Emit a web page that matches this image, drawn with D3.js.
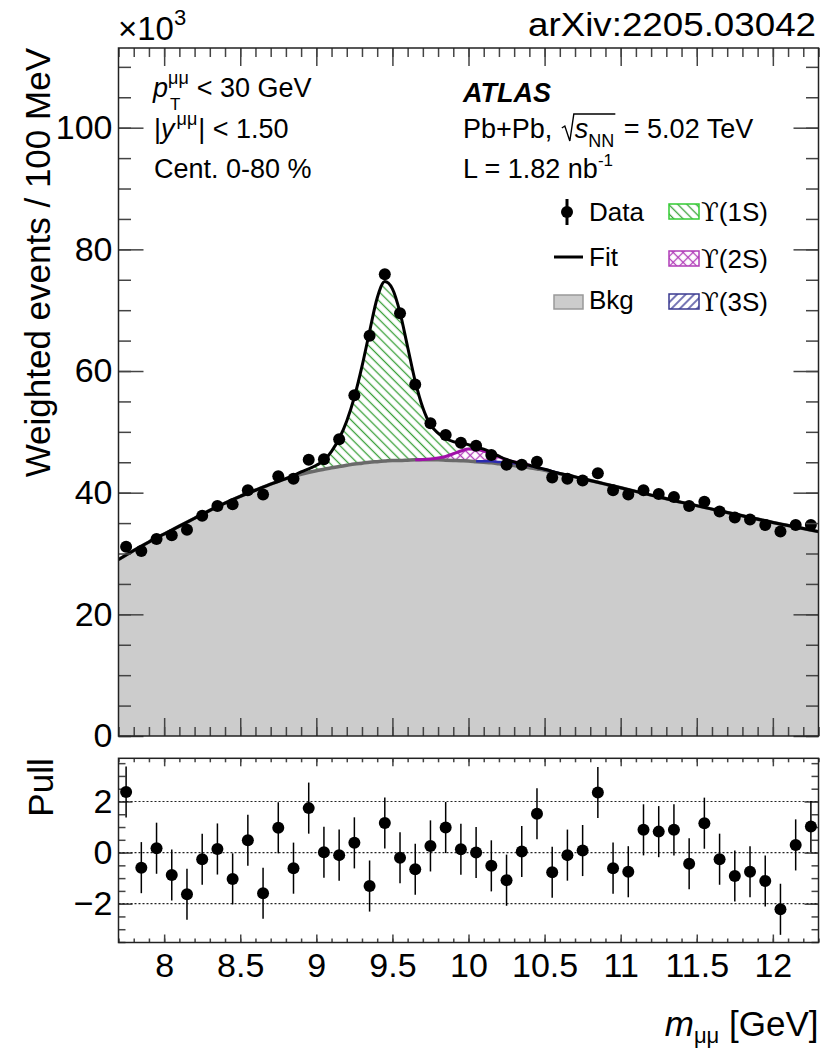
<!DOCTYPE html>
<html>
<head>
<meta charset="utf-8">
<script src="https://cdn.jsdelivr.net/npm/d3@7"></script>
<style>
body { margin: 0; background: #fff; }
text { font-family: "Liberation Sans", Arial, Helvetica, sans-serif; fill: #000; white-space: pre; }
</style>
</head>
<body>
<div id="chart"></div>
<script>
// ---- data (weighted events in units of 10^3 per 100 MeV) ----
var binCenters = [7.75, 7.85, 7.95, 8.05, 8.15, 8.25, 8.35, 8.45, 8.55, 8.65, 8.75, 8.85, 8.95, 9.05, 9.15, 9.25,
  9.35, 9.45, 9.55, 9.65, 9.75, 9.85, 9.95, 10.05, 10.15, 10.25, 10.35, 10.45, 10.55, 10.65, 10.75, 10.85,
  10.95, 11.05, 11.15, 11.25, 11.35, 11.45, 11.55, 11.65, 11.75, 11.85, 11.95, 12.05, 12.15, 12.25];
var weightedEvents = [31.1, 30.4, 32.4, 33.0, 33.9, 36.2, 37.8, 38.1, 40.4, 39.7, 42.7, 42.3, 45.4, 45.5, 48.8, 56.0,
  65.8, 75.9, 69.5, 57.8, 51.4, 49.5, 48.2, 47.7, 46.2, 44.6, 44.6, 45.1, 42.5, 42.3, 42.0, 43.2,
  40.4, 39.7, 40.4, 39.8, 39.3, 37.8, 38.5, 36.9, 35.9, 35.6, 34.7, 33.6, 34.7, 34.7];
var pullValues = [2.37, -0.59, 0.17, -0.88, -1.63, -0.26, 0.14, -1.03, 0.48, -1.59, 0.97, -0.61, 1.74, 0.01, -0.10, 0.38,
  -1.31, 1.16, -0.20, -0.65, 0.26, 0.98, 0.13, 0.0, -0.52, -1.08, 0.04, 1.52, -0.77, -0.10, 0.08, 2.35,
  -0.61, -0.75, 0.89, 0.82, 0.89, -0.44, 1.15, -0.26, -0.92, -0.75, -1.11, -2.22, 0.30, 1.02];

// fit components sampled along the mass axis
var curveMass = [7.7, 7.8, 7.9, 8.0, 8.1, 8.2, 8.3, 8.4, 8.5, 8.6, 8.7, 8.8, 8.9,
  9.0, 9.05, 9.1, 9.15, 9.2, 9.25, 9.3, 9.35, 9.4, 9.45, 9.5, 9.55, 9.6, 9.65, 9.7, 9.75, 9.8, 9.85, 9.9, 9.95,
  10.0, 10.05, 10.1, 10.15, 10.2, 10.25, 10.3, 10.35, 10.4, 10.45, 10.5,
  10.6, 10.7, 10.8, 10.9, 11.0, 11.2, 11.4, 11.6, 11.8, 12.0, 12.2, 12.3];
var bkgCurve = [29.0, 30.5, 31.9, 33.2, 34.5, 35.8, 37.1, 38.3, 39.4, 40.4, 41.4, 42.3, 43.0,
  43.6, 43.85, 44.1, 44.3, 44.5, 44.7, 44.85, 45.0, 45.1, 45.2, 45.3, 45.3, 45.35, 45.4, 45.4, 45.4, 45.4, 45.35, 45.3, 45.25,
  45.2, 45.1, 45.0, 44.9, 44.75, 44.6, 44.45, 44.3, 44.1, 43.9, 43.7,
  43.1, 42.6, 42.0, 41.4, 40.8, 39.6, 38.4, 37.3, 36.2, 35.1, 34.1, 33.6];
var ups1S = [0, 0, 0, 0, 0, 0, 0, 0, 0, 0, 0, 0, 0.4,
  0.9, 1.45, 2.7, 4.6, 7.3, 11.0, 15.9, 21.5, 26.9, 29.5, 28.2, 24.3, 18.6, 12.9, 8.5, 5.6, 4.1, 2.95, 2.0, 1.25,
  0.7, 0.4, 0.3, 0.15, 0.1, 0.05, 0, 0, 0, 0, 0,
  0, 0, 0, 0, 0, 0, 0, 0, 0, 0, 0, 0];
var ups2S = [0, 0, 0, 0, 0, 0, 0, 0, 0, 0, 0, 0, 0,
  0, 0, 0, 0, 0, 0, 0, 0, 0, 0, 0, 0, 0, 0, 0.05, 0.15, 0.3, 0.6, 1.1, 1.6,
  2.0, 2.0, 1.7, 1.3, 0.85, 0.45, 0.2, 0.1, 0.05, 0, 0,
  0, 0, 0, 0, 0, 0, 0, 0, 0, 0, 0, 0];
var ups3S = [0, 0, 0, 0, 0, 0, 0, 0, 0, 0, 0, 0, 0,
  0, 0, 0, 0, 0, 0, 0, 0, 0, 0, 0, 0, 0, 0, 0, 0, 0, 0, 0, 0,
  0, 0.05, 0.15, 0.25, 0.3, 0.35, 0.4, 0.4, 0.35, 0.25, 0.15,
  0.05, 0, 0, 0, 0, 0, 0, 0, 0, 0, 0, 0];

var xTicks = [8, 8.5, 9, 9.5, 10, 10.5, 11, 11.5, 12];
var xTickLabels = ["8", "8.5", "9", "9.5", "10", "10.5", "11", "11.5", "12"];
var yTicks = [0, 20, 40, 60, 80, 100];
var yTickLabels = ["0", "20", "40", "60", "80", "100"];
var pullTicks = [-2, 0, 2];
var pullTickLabels = ["\u22122", "0", "2"];

// ---- layout ----
var W = 821, H = 1052;
var L = 118.5, R = 818.5;
var mainTop = 48, mainBot = 736, pullTop = 758.3, pullBot = 942.5;

var svg = d3.select("#chart").append("svg").attr("width", W).attr("height", H);
var x = d3.scaleLinear().domain([7.7, 12.3]).range([L, R]);
var y = d3.scaleLinear().domain([0, 113.1]).range([mainBot, mainTop]);
var yp = d3.scaleLinear().domain([-3.52, 3.69]).range([pullBot, pullTop]);

var defs = svg.append("defs");
function addHatch(id, color, angle, size, cross) {
  var p = defs.append("pattern").attr("id", id)
    .attr("patternUnits", "userSpaceOnUse")
    .attr("width", size).attr("height", size)
    .attr("patternTransform", "rotate(" + angle + ")");
  p.append("line").attr("x1", size / 2).attr("y1", 0).attr("x2", size / 2).attr("y2", size)
    .attr("stroke", color).attr("stroke-width", 1.3);
  if (cross) {
    p.append("line").attr("x1", 0).attr("y1", size / 2).attr("x2", size).attr("y2", size / 2)
      .attr("stroke", color).attr("stroke-width", 1.3);
  }
}
addHatch("h1S", "#3aa03a", -45, 6.5, false);
addHatch("h2S", "#b03cb8", 45, 7, true);
addHatch("h3S", "#2c2c8c", 45, 6, false);

defs.append("clipPath").attr("id", "clipMain").append("rect")
  .attr("x", L).attr("y", mainTop).attr("width", R - L).attr("height", mainBot - mainTop);

// stacked curves: bkg, +3S, +2S, +1S
var curve = curveMass.map(function(m, i) {
  var t3 = bkgCurve[i] + ups3S[i];
  var t2 = t3 + ups2S[i];
  return { m: m, bkg: bkgCurve[i], t3: t3, t2: t2, tot: t2 + ups1S[i], s2: ups2S[i], s3: ups3S[i] };
});

var plot = svg.append("g").attr("clip-path", "url(#clipMain)");
var cv = d3.curveMonotoneX;

plot.append("path").datum(curve)
  .attr("d", d3.area().curve(cv).x(function(d) { return x(d.m); }).y0(y(0)).y1(function(d) { return y(d.bkg); }))
  .attr("fill", "#cccccc");
plot.append("path").datum(curve)
  .attr("d", d3.area().curve(cv).x(function(d) { return x(d.m); }).y0(function(d) { return y(d.t2); }).y1(function(d) { return y(d.tot); }))
  .attr("fill", "url(#h1S)");
plot.append("path").datum(curve)
  .attr("d", d3.area().curve(cv).x(function(d) { return x(d.m); }).y0(function(d) { return y(d.t3); }).y1(function(d) { return y(d.t2); }))
  .attr("fill", "url(#h2S)");
plot.append("path").datum(curve)
  .attr("d", d3.area().curve(cv).x(function(d) { return x(d.m); }).y0(function(d) { return y(d.bkg); }).y1(function(d) { return y(d.t3); }))
  .attr("fill", "url(#h3S)");

plot.append("path").datum(curve)
  .attr("d", d3.line().curve(cv).x(function(d) { return x(d.m); }).y(function(d) { return y(d.bkg); }))
  .attr("fill", "none").attr("stroke", "#6a6a6a").attr("stroke-width", 3.5);
plot.append("path").datum(curve)
  .attr("d", d3.line().curve(cv).defined(function(d) { return d.s3 > 0; }).x(function(d) { return x(d.m); }).y(function(d) { return y(d.t3); }))
  .attr("fill", "none").attr("stroke", "#2a2ab0").attr("stroke-width", 2.5);
plot.append("path").datum(curve)
  .attr("d", d3.line().curve(cv).defined(function(d, i) { return d.s2 > 0 || (curve[i + 1] && curve[i + 1].s2 > 0); }).x(function(d) { return x(d.m); }).y(function(d) { return y(d.t2); }))
  .attr("fill", "none").attr("stroke", "#a010a8").attr("stroke-width", 3);
plot.append("path").datum(curve)
  .attr("d", d3.line().curve(cv).x(function(d) { return x(d.m); }).y(function(d) { return y(d.tot); }))
  .attr("fill", "none").attr("stroke", "#000").attr("stroke-width", 3);

plot.selectAll("circle.pt").data(binCenters).enter().append("circle")
  .attr("class", "pt")
  .attr("cx", function(d) { return x(d); })
  .attr("cy", function(d, i) { return y(weightedEvents[i]); })
  .attr("r", 6).attr("fill", "#000");

// ---- axes (ROOT style: ticks inward on all sides) ----
function styleAxis(g, fs) {
  g.select(".domain").remove();
  g.selectAll(".tick line").attr("stroke", "#444").attr("stroke-width", 1.5);
  g.attr("font-family", null).attr("font-size", null);
  g.selectAll("text").style("font-size", fs + "px");
}
var xMinor = d3.range(77, 124).map(function(v) { return v / 10; });
function xAxes(top, bot, maj, min, withLabels) {
  svg.append("g").attr("transform", "translate(0," + bot + ")")
    .call(d3.axisBottom(x).tickValues(xMinor).tickSize(-min).tickFormat(""))
    .call(styleAxis, 34);
  svg.append("g").attr("transform", "translate(0," + bot + ")")
    .call(d3.axisBottom(x).tickValues(xTicks).tickSize(-maj).tickPadding(10)
      .tickFormat(function(d, i) { return withLabels ? xTickLabels[i] : ""; }))
    .call(styleAxis, 34);
  svg.append("g").attr("transform", "translate(0," + top + ")")
    .call(d3.axisTop(x).tickValues(xMinor).tickSize(-min).tickFormat(""))
    .call(styleAxis, 34);
  svg.append("g").attr("transform", "translate(0," + top + ")")
    .call(d3.axisTop(x).tickValues(xTicks).tickSize(-maj).tickFormat(""))
    .call(styleAxis, 34);
}
xAxes(mainTop, mainBot, 18, 9, false);
xAxes(pullTop, pullBot, 8, 4, true);

function yAxes(scale, minorVals, majVals, labels, maj, min) {
  svg.append("g").attr("transform", "translate(" + L + ",0)")
    .call(d3.axisLeft(scale).tickValues(minorVals).tickSize(-min).tickFormat(""))
    .call(styleAxis, 34);
  svg.append("g").attr("transform", "translate(" + L + ",0)")
    .call(d3.axisLeft(scale).tickValues(majVals).tickSize(-maj).tickPadding(6)
      .tickFormat(function(d, i) { return labels[i]; }))
    .call(styleAxis, 34);
  svg.append("g").attr("transform", "translate(" + R + ",0)")
    .call(d3.axisRight(scale).tickValues(minorVals).tickSize(-min).tickFormat(""))
    .call(styleAxis, 34);
  svg.append("g").attr("transform", "translate(" + R + ",0)")
    .call(d3.axisRight(scale).tickValues(majVals).tickSize(-maj).tickFormat(""))
    .call(styleAxis, 34);
}
yAxes(y, d3.range(0, 114, 5), yTicks, yTickLabels, 25, 12.5);
yAxes(yp, d3.range(-3.5, 3.6, 0.5), pullTicks, pullTickLabels, 14, 7);

// ---- pull panel ----
var pull = svg.append("g");
pullTicks.forEach(function(v) {
  pull.append("line").attr("x1", L).attr("x2", R).attr("y1", yp(v)).attr("y2", yp(v))
    .attr("stroke", "#222").attr("stroke-width", 1.2).attr("stroke-dasharray", "2,2");
});
pull.selectAll("line.err").data(binCenters).enter().append("line")
  .attr("class", "err")
  .attr("x1", function(d) { return x(d); }).attr("x2", function(d) { return x(d); })
  .attr("y1", function(d, i) { return yp(pullValues[i] - 1); })
  .attr("y2", function(d, i) { return yp(pullValues[i] + 1); })
  .attr("stroke", "#000").attr("stroke-width", 1.5);
pull.selectAll("circle").data(binCenters).enter().append("circle")
  .attr("cx", function(d) { return x(d); })
  .attr("cy", function(d, i) { return yp(pullValues[i]); })
  .attr("r", 6).attr("fill", "#000");

// frames
[[mainTop, mainBot], [pullTop, pullBot]].forEach(function(f) {
  svg.append("rect").attr("x", L).attr("y", f[0]).attr("width", R - L).attr("height", f[1] - f[0])
    .attr("fill", "none").attr("stroke", "#222").attr("stroke-width", 1.5);
});

// ---- text helpers ----
function rich(g, x0, y0, parts, size) {
  var cx = x0;
  parts.forEach(function(p) {
    var t = g.append("text").attr("x", cx + (p.dx || 0)).attr("y", y0 + (p.dy || 0))
      .style("font-size", (p.size || size) + "px").text(p.t);
    if (p.it) t.style("font-style", "italic");
    if (p.bold) t.style("font-weight", "bold");
    if (p.font) t.style("font-family", p.font);
    if (!p.stay) cx += t.node().getComputedTextLength() + (p.dx || 0);
  });
  return cx;
}

// axis titles
svg.append("text").attr("transform", "translate(50," + mainTop + ") rotate(-90)")
  .attr("text-anchor", "end").style("font-size", "35px").text("Weighted events / 100 MeV");
svg.append("text").attr("transform", "translate(53," + pullTop + ") rotate(-90)")
  .attr("text-anchor", "end").style("font-size", "35px").text("Pull");
var xt = svg.append("g");
var xtw = rich(xt, 0, 1036, [{ t: "m", it: true }, { t: "\u03bc\u03bc", size: 22, dy: 7 }, { t: "\u00a0[GeV]" }], 35);
xt.attr("transform", "translate(" + (R - xtw) + ",0)");

// x10^3 and arXiv
rich(svg, 118, 40, [{ t: "\u00d710" }, { t: "3", size: 22, dy: -15 }], 33);
svg.append("text").attr("x", 816).attr("y", 36).attr("text-anchor", "end")
  .attr("textLength", 288).attr("lengthAdjust", "spacingAndGlyphs")
  .style("font-size", "34px").text("arXiv:2205.03042");

// left annotations
var ann = svg.append("g");
var fs = 27;
(function() {
  var by = 97;
  var tp = ann.append("text").attr("x", 153).attr("y", by).style("font-size", fs + "px").style("font-style", "italic").text("p");
  var cx = 153 + tp.node().getComputedTextLength();
  var sup = ann.append("text").attr("x", cx).attr("y", by - 13).style("font-size", "18px").text("\u03bc\u03bc");
  ann.append("text").attr("x", cx + 2).attr("y", by + 13).style("font-size", "17px").text("T");
  cx += sup.node().getComputedTextLength() + 8;
  ann.append("text").attr("x", cx).attr("y", by).style("font-size", fs + "px").text("< 30 GeV");
})();
rich(ann, 154, 138, [{ t: "|" }, { t: "y", it: true }, { t: "\u03bc\u03bc", size: 18, dy: -13, dx: 2 }, { t: "| < 1.50", dx: 1 }], fs);
rich(ann, 154, 178, [{ t: "Cent. 0-80 %" }], fs);

// right annotations
rich(ann, 463, 102, [{ t: "ATLAS", it: true, bold: true }], fs);
(function() {
  var by = 138;
  var cx = rich(ann, 463, by, [{ t: "Pb+Pb,\u00a0" }], fs);
  var rx = cx + 2;
  var end = rich(ann, rx + 13, by, [{ t: "s", it: true }, { t: "NN", size: 18, dy: 9 }], fs);
  ann.append("path")
    .attr("d", "M" + rx + "," + (by - 10) + " L" + (rx + 3) + "," + (by - 12) + " L" + (rx + 8) + "," + (by + 3) +
      " L" + (rx + 12) + "," + (by - 24) + " L" + (end + 1) + "," + (by - 24))
    .attr("fill", "none").attr("stroke", "#000").attr("stroke-width", 1.4);
  rich(ann, end + 2, by, [{ t: "\u00a0= 5.02 TeV" }], fs);
})();
rich(ann, 463, 178, [{ t: "L = 1.82 nb" }, { t: "-1", size: 17, dy: -12 }], fs);

// ---- legend ----
var leg = svg.append("g");
var lfs = 26;
leg.append("line").attr("x1", 567).attr("x2", 567).attr("y1", 199).attr("y2", 225).attr("stroke", "#000").attr("stroke-width", 3);
leg.append("circle").attr("cx", 567).attr("cy", 212).attr("r", 6).attr("fill", "#000");
leg.append("text").attr("x", 589).attr("y", 221).style("font-size", lfs + "px").text("Data");
leg.append("line").attr("x1", 554).attr("x2", 583).attr("y1", 257).attr("y2", 257).attr("stroke", "#000").attr("stroke-width", 3);
leg.append("text").attr("x", 589).attr("y", 266).style("font-size", lfs + "px").text("Fit");
leg.append("rect").attr("x", 554).attr("y", 295).attr("width", 29).attr("height", 14).attr("fill", "#cccccc").attr("stroke", "#999").attr("stroke-width", 1.5);
leg.append("text").attr("x", 589).attr("y", 309).style("font-size", lfs + "px").text("Bkg");

var sigLegend = [
  { id: "h1S", border: "#33cc33", label: "(1S)", y: 204 },
  { id: "h2S", border: "#b03cb8", label: "(2S)", y: 251 },
  { id: "h3S", border: "#3a3a90", label: "(3S)", y: 294 }
];
sigLegend.forEach(function(s) {
  leg.append("rect").attr("x", 669).attr("y", s.y).attr("width", 30).attr("height", 15)
    .attr("fill", "#fff").attr("stroke", "none");
  leg.append("rect").attr("x", 669).attr("y", s.y).attr("width", 30).attr("height", 15)
    .attr("fill", "url(#" + s.id + ")").attr("stroke", s.border).attr("stroke-width", 1.5);
  rich(leg, 701, s.y + 17, [{ t: "\u03d2", font: "DejaVu Serif", size: 26 }, { t: s.label }], lfs);
});
</script>
</body>
</html>
